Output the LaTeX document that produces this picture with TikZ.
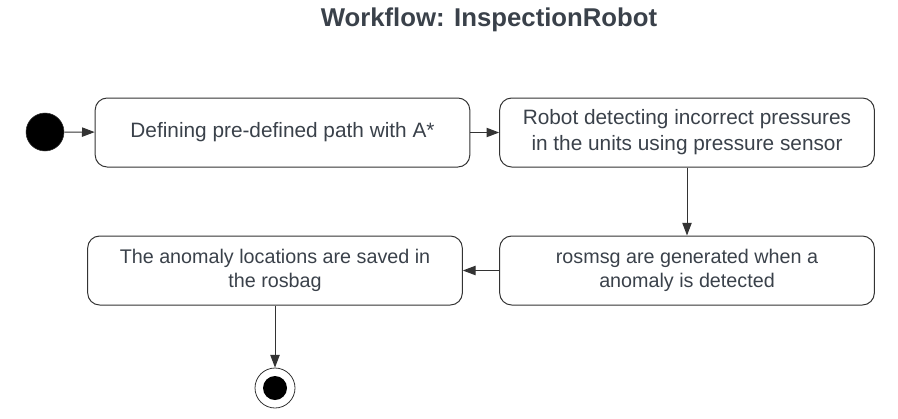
\documentclass[tikz,border=0pt]{standalone}
\usepackage{fontspec}
\setmainfont{Liberation Sans}
\usetikzlibrary{arrows.meta}
\definecolor{inktext}{HTML}{3A414A}
\definecolor{inkline}{HTML}{333333}
\begin{document}
\begin{tikzpicture}[x=0.75pt,y=-0.75pt]
\tikzstyle{every node}=[font=\fontsize{15.6}{19.5}\selectfont,text=inktext];
\tikzstyle{activity}=[draw=inkline,line width=0.75pt,rounded corners=9pt,minimum width=281pt,minimum height=51.75pt,align=center,inner sep=2pt];
\tikzstyle{smallactivity}=[activity,font=\fontsize{14.8}{17.5}\selectfont];
\tikzstyle{flow}=[draw=inkline,line width=0.75pt,-{Triangle[length=9.5pt,width=7pt]}];
\useasboundingbox (0,0) rectangle (898,418);
\node (title) at (489,20) {\fontsize{19.3}{22}\selectfont\bfseries Workflow: InspectionRobot};
\node (start) [circle,draw=inkline,fill=black,minimum size=28.5pt,inner sep=0pt] at (45,132) {};
\node (path) [activity] at (282.5,132.5) {Defining pre-defined path with A*};
\node (detect) [activity] at (687,132.5) {Robot detecting incorrect pressures\\in the units using pressure sensor};
\node (rosmsg) [smallactivity] at (687,270.5) {rosmsg are generated when a\\anomaly is detected};
\node (rosbag) [smallactivity] at (275,270.5) {The anomaly locations are saved in\\the rosbag};
\node (final) [circle,draw=inkline,line width=0.6pt,minimum size=30pt,inner sep=0pt] at (275,388) {};
\node (finaldot) [circle,fill=black,minimum size=18pt,inner sep=0pt] at (final) {};
\draw[flow] (start) -- (path);
\draw[flow] (path) -- (detect);
\draw[flow] (detect) -- (rosmsg);
\draw[flow] (rosmsg) -- (rosbag);
\draw[flow] (rosbag) -- (final);
\end{tikzpicture}
\end{document}
